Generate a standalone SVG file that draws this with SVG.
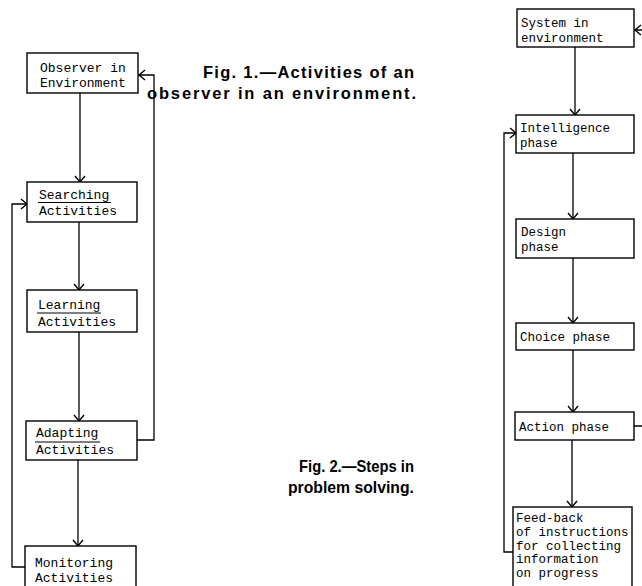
<svg xmlns="http://www.w3.org/2000/svg" width="642" height="586" viewBox="0 0 642 586">
<defs>
<marker id="ah" markerUnits="userSpaceOnUse" markerWidth="14" markerHeight="14" viewBox="-8 -7 10 14" refX="0" refY="0" orient="auto">
<path d="M-6,-5 L0,0 L-6,5" fill="none" stroke="#000" stroke-width="1.4"/>
</marker>
</defs>
<style>
.b{fill:#fff;stroke:#000;stroke-width:1.4}
.t{font-family:"Liberation Mono","DejaVu Sans Mono",monospace;font-size:13px;fill:#000}
.t2{font-family:"Liberation Mono","DejaVu Sans Mono",monospace;font-size:12.5px;fill:#000}
.c{fill:none;stroke:#000;stroke-width:1.3;marker-end:url(#ah)}
.u{stroke:#000;stroke-width:1.1}
.cap{font-family:"Liberation Sans",Arial,sans-serif;font-weight:bold;font-size:16.5px;fill:#000}
.cap2{font-family:"Liberation Sans",Arial,sans-serif;font-weight:bold;font-size:16.5px;fill:#000}
</style>
<rect width="642" height="586" fill="#fff"/>
<g id="connectors">
<path class="c" d="M80,93 V182"/>
<path class="c" d="M79,222 V290"/>
<path class="c" d="M79,332 V421"/>
<path class="c" d="M78,460 V546"/>
<path class="c" d="M137,440 H154 V75 H139"/>
<path class="c" d="M25,567 H12 V204 H27"/>
<path class="c" d="M575,47 V115"/>
<path class="c" d="M573,153 V219"/>
<path class="c" d="M573,258 V323"/>
<path class="c" d="M573,350 V412"/>
<path class="c" d="M572,440 V507"/>
<path class="c" d="M513,552 H504 V133 H516"/>
<path class="c" d="M634,426 H645 V30 H635"/>
</g>
<g id="observer">
<rect class="b" x="27" y="53" width="111" height="40"/>
<text class="t" x="40" y="72">Observer in</text>
<text class="t" x="40" y="87">Environment</text>
</g>
<g id="searching">
<rect class="b" x="27" y="182" width="110" height="40"/>
<text class="t" x="39" y="199">Searching</text>
<line class="u" x1="38" y1="202.5" x2="111" y2="202.5"/>
<text class="t" x="39" y="215">Activities</text>
</g>
<g id="learning">
<rect class="b" x="27" y="290" width="110" height="42"/>
<text class="t" x="38" y="309">Learning</text>
<line class="u" x1="37" y1="313" x2="101" y2="313"/>
<text class="t" x="38" y="326">Activities</text>
</g>
<g id="adapting">
<rect class="b" x="26" y="421" width="111" height="39"/>
<text class="t" x="36" y="437">Adapting</text>
<line class="u" x1="35" y1="442" x2="100" y2="442"/>
<text class="t" x="36" y="454">Activities</text>
</g>
<g id="monitoring">
<rect class="b" x="25" y="546" width="111" height="46"/>
<text class="t" x="35" y="567">Monitoring</text>
<text class="t" x="35" y="582">Activities</text>
</g>
<g id="caption1">
<text class="cap" x="203" y="78" textLength="211" lengthAdjust="spacing">Fig. 1.—Activities of an</text>
<text class="cap" x="147" y="99" textLength="269" lengthAdjust="spacing">observer in an environment.</text>
</g>
<g id="system">
<rect class="b" x="517" y="9" width="117" height="38"/>
<text class="t2" x="521" y="27">System in</text>
<text class="t2" x="521" y="42">environment</text>
</g>
<g id="intelligence">
<rect class="b" x="516" y="115" width="118" height="38"/>
<text class="t2" x="520" y="132">Intelligence</text>
<text class="t2" x="520" y="147">phase</text>
</g>
<g id="design">
<rect class="b" x="516" y="219" width="118" height="39"/>
<text class="t2" x="521" y="236">Design</text>
<text class="t2" x="521" y="251">phase</text>
</g>
<g id="choice">
<rect class="b" x="516" y="323" width="118" height="27"/>
<text class="t2" x="520" y="341">Choice phase</text>
</g>
<g id="action">
<rect class="b" x="515" y="412" width="119" height="28"/>
<text class="t2" x="519" y="431">Action phase</text>
</g>
<g id="feedback">
<rect class="b" x="513" y="507" width="119" height="80"/>
<text class="t2" x="516" y="522">Feed-back</text>
<text class="t2" x="516" y="536">of instructions</text>
<text class="t2" x="516" y="550">for collecting</text>
<text class="t2" x="516" y="563">information</text>
<text class="t2" x="516" y="577">on progress</text>
</g>
<g id="caption2">
<text class="cap2" x="299" y="472" textLength="115" lengthAdjust="spacingAndGlyphs">Fig. 2.—Steps in</text>
<text class="cap2" x="288" y="493" textLength="126" lengthAdjust="spacingAndGlyphs">problem solving.</text>
</g>
</svg>
